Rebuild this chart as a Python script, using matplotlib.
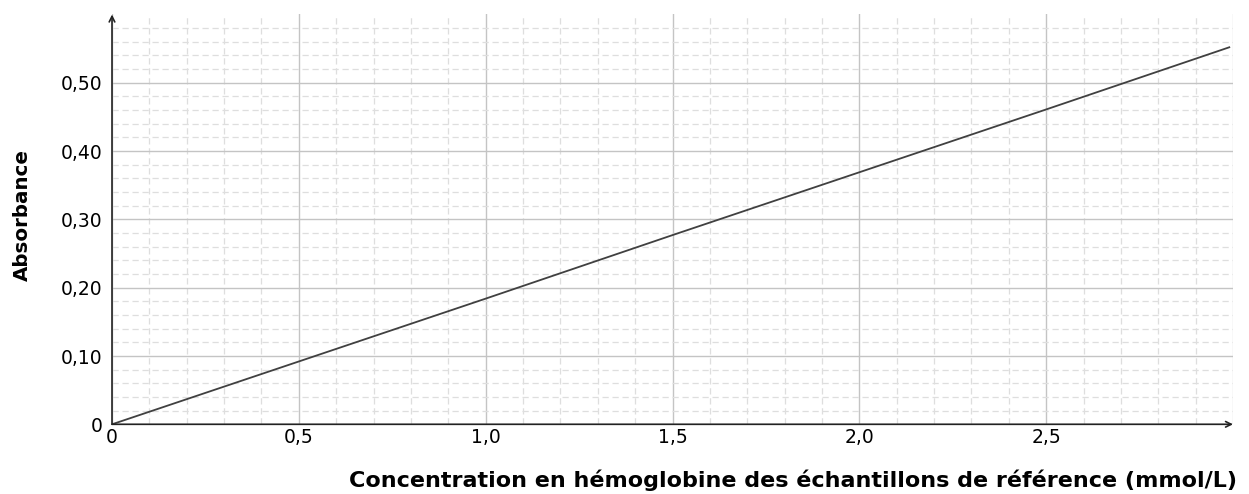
import matplotlib
matplotlib.use("Agg")
import matplotlib.pyplot as plt
import numpy as np
from matplotlib.ticker import FixedLocator

# Data
concentration = [0.0, 0.5, 1.0, 1.5, 2.0, 2.5, 2.99]
absorbance = [0.0, 0.092, 0.184, 0.277, 0.369, 0.461, 0.552]

x_ticks = [0, 0.5, 1.0, 1.5, 2.0, 2.5]
x_labels = ["0", "0,5", "1,0", "1,5", "2,0", "2,5"]
y_ticks = [0, 0.1, 0.2, 0.3, 0.4, 0.5]
y_labels = ["0", "0,10", "0,20", "0,30", "0,40", "0,50"]

plt.rcParams['font.family'] = ['DejaVu Sans']

fig = plt.figure(figsize=(12.49, 4.94), dpi=100)
ax = fig.add_axes([112/1249, (494-424.3)/494, (1233-112)/1249, (424.3-14.5)/494])

ax.set_xlim(0, 3.0)
ax.set_ylim(0, 0.6)

ax.xaxis.set_major_locator(FixedLocator(x_ticks))
ax.yaxis.set_major_locator(FixedLocator(y_ticks))
ax.xaxis.set_minor_locator(FixedLocator([i/10 for i in range(1, 30) if i % 5 != 0]))
ax.yaxis.set_minor_locator(FixedLocator([i/50 for i in range(1, 30) if i % 5 != 0]))
ax.set_xticklabels(x_labels)
ax.set_yticklabels(y_labels)

ax.grid(which='major', color='#c4c4c4', lw=1.0, ls='-')
ax.grid(which='minor', color='#dedede', lw=0.9, ls=(0, (5, 3)))
ax.axvline(3.0, color='#e0e0e0', lw=1.0, zorder=0)
ax.set_axisbelow(True)

ax.tick_params(which='both', length=0, labelsize=13.5, colors='black')
ax.tick_params(axis='x', pad=3)
ax.tick_params(axis='y', pad=7)

for s in ax.spines.values():
    s.set_visible(False)

ax.plot(concentration, absorbance, color='#404040', lw=1.3, zorder=3)

ax.annotate('', xy=(0, 1.0), xytext=(0, 0), xycoords='axes fraction',
            arrowprops=dict(arrowstyle='->', color='#222222', lw=1.2,
                            shrinkA=0, shrinkB=0), zorder=4)
ax.annotate('', xy=(1.0, 0), xytext=(0, 0), xycoords='axes fraction',
            arrowprops=dict(arrowstyle='->', color='#222222', lw=1.2,
                            shrinkA=0, shrinkB=0), zorder=4)

fig.text(1237/1249, (494-480)/494, "Concentration en hémoglobine des échantillons de référence (mmol/L)",
         ha='right', va='center', fontsize=16, fontweight='bold')
fig.text(22/1249, (494-215)/494, "Absorbance", ha='center', va='center',
         rotation=90, fontsize=14.3, fontweight='bold')

fig.savefig("out.png", dpi=100)
